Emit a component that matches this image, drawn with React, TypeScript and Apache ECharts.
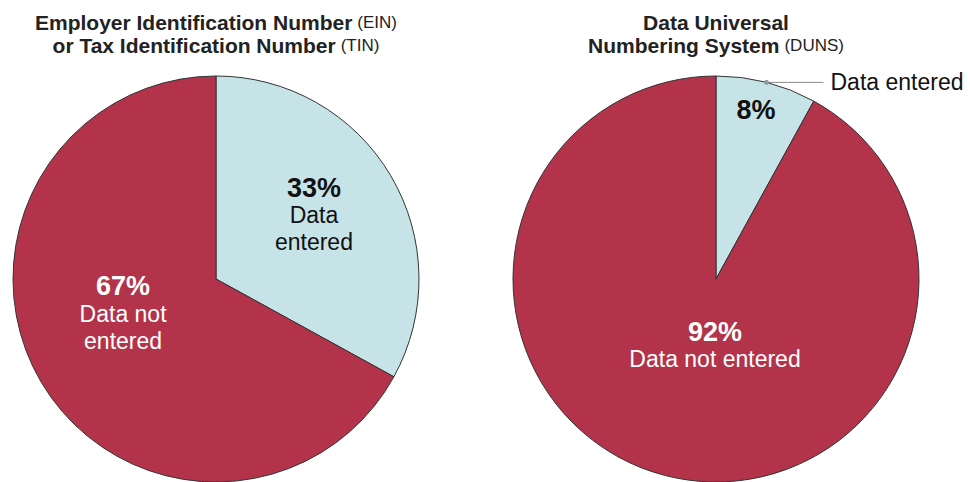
import React, { useEffect, useRef } from 'react';
import * as echarts from 'echarts';

const categories = ['Data entered', 'Data not entered'];
const einValues = [33, 67];
const dunsValues = [8, 92];
const einLabelText = ['Data\nentered', 'Data not\nentered'];
const dunsLabelText = ['', 'Data not entered'];
const einTitle = [['Employer Identification Number', '(EIN)'], ['or Tax Identification Number', '(TIN)']];
const dunsTitle = [['Data Universal', ''], ['Numbering System', '(DUNS)']];

const FONT = '"Liberation Sans", Arial, Helvetica, sans-serif';
const RED = '#B3344A';
const BLUE = '#C6E4E8';
const EDGE = '#333333';

const richTitle = (lines: string[][]) =>
  lines.map(([b, n]) => (n ? `{b|${b}} {n|${n}}` : `{b|${b}}`)).join('\n');

const sliceLabel = (texts: string[]) => (p: any) => {
  const t = texts[p.dataIndex];
  const lines = t ? t.split('\n').map((l) => `{t|${l}}`) : [];
  return [`{p|${p.value}%}`, ...lines].join('\n');
};

export default function App() {
  const ref = useRef<HTMLDivElement>(null);
  useEffect(() => {
    if (!ref.current) return;
    const chart = echarts.init(ref.current, null, { renderer: 'svg' });
    const R = 203;
    const cL = [216, 279];
    const cR = [716, 279];
    const colors = [BLUE, RED];
    const textColors = ['#111111', '#ffffff'];
    const mkData = (vals: number[]) =>
      vals.map((v, i) => ({
        value: v,
        name: categories[i],
        itemStyle: { color: colors[i] },
        label: { color: textColors[i] },
      }));
    const rich = {
      p: { fontFamily: FONT, fontSize: 27, fontWeight: 'bold', lineHeight: 28 },
      t: { fontFamily: FONT, fontSize: 23, fontWeight: 'normal', lineHeight: 27 },
    };
    const titleRich = {
      b: { fontFamily: FONT, fontSize: 21, fontWeight: 'bold', color: '#222', lineHeight: 23 },
      n: { fontFamily: FONT, fontSize: 17, fontWeight: 'normal', color: '#222', lineHeight: 23 },
    };
    const einOff = [[8, -11], [-3, -19]];
    const dunsOff = [[14, -68], [25, -35]];
    const dSum = dunsValues.reduce((a, b) => a + b, 0);
    const midA = (dunsValues[0] / dSum) * Math.PI;
    const dotX = cR[0] + R * Math.sin(midA);
    const dotY = cR[1] - R * Math.cos(midA);

    chart.setOption({
      animation: false,
      title: [
        {
          text: richTitle(einTitle),
          left: cL[0],
          top: 11,
          textAlign: 'center',
          padding: 0,
          textStyle: { fontWeight: 'normal', rich: titleRich },
        },
        {
          text: richTitle(dunsTitle),
          left: cR[0],
          top: 11,
          textAlign: 'center',
          padding: 0,
          textStyle: { fontWeight: 'normal', rich: titleRich },
        },
      ],
      series: [
        {
          type: 'pie',
          center: cL,
          radius: R,
          startAngle: 90,
          clockwise: true,
          silent: true,
          avoidLabelOverlap: false,
          itemStyle: { borderColor: EDGE, borderWidth: 1 },
          label: { show: true, position: 'inside', formatter: sliceLabel(einLabelText), rich, align: 'center' },
          labelLine: { show: false },
          labelLayout: (p: any) => ({ dx: einOff[p.dataIndex][0], dy: einOff[p.dataIndex][1] }),
          data: mkData(einValues),
        },
        {
          type: 'pie',
          center: cR,
          radius: R,
          startAngle: 90,
          clockwise: true,
          silent: true,
          avoidLabelOverlap: false,
          itemStyle: { borderColor: EDGE, borderWidth: 1 },
          label: { show: true, position: 'inside', formatter: sliceLabel(dunsLabelText), rich, align: 'center' },
          labelLine: { show: false },
          labelLayout: (p: any) => ({ dx: dunsOff[p.dataIndex][0], dy: dunsOff[p.dataIndex][1] }),
          data: mkData(dunsValues),
        },
        {
          type: 'pie',
          center: cR,
          radius: R,
          startAngle: 90,
          clockwise: true,
          silent: true,
          avoidLabelOverlap: false,
          itemStyle: { color: 'rgba(0,0,0,0)', borderWidth: 0 },
          label: {
            show: true,
            position: 'outside',
            formatter: '{b}',
            fontFamily: FONT,
            fontSize: 23,
            color: '#111',
            distanceToLabelLine: 7,
            overflow: 'none',
          },
          labelLine: { show: true, length: 0, length2: 57, lineStyle: { color: '#8c8c8c', width: 1 } },
          data: dunsValues.map((v, i) => ({
            value: v,
            name: categories[i],
            label: { show: i === 0 },
            labelLine: { show: i === 0 },
          })),
        },
      ],
      graphic: [
        {
          type: 'circle',
          shape: { cx: dotX, cy: dotY, r: 2.5 },
          style: { fill: '#8a9a9e' },
          z: 100,
        },
      ],
    });
    return () => chart.dispose();
  }, []);
  return <div ref={ref} style={{ position: 'absolute', left: 0, top: 0, width: 970, height: 482 }} />;
}
